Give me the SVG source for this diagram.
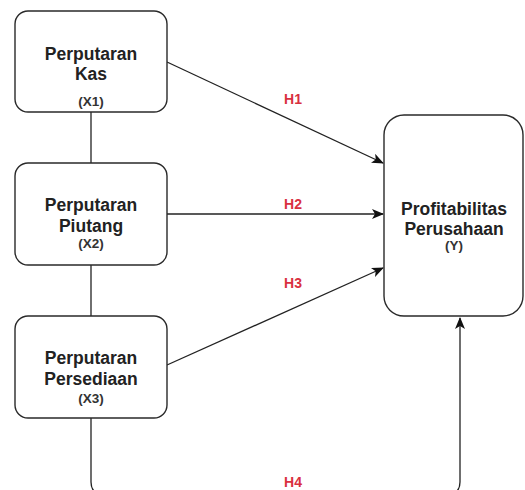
<svg xmlns="http://www.w3.org/2000/svg" width="525" height="490" viewBox="0 0 525 490">
<defs>
<marker id="arr" markerWidth="12" markerHeight="10" refX="11" refY="5" orient="auto" markerUnits="userSpaceOnUse">
<path d="M0,0 L12,5 L0,10 L3,5 Z" fill="#111"/>
</marker>
<style>
.box{fill:#fff;stroke:#2a2a2a;stroke-width:1.4}
.lbl{font-family:"Liberation Sans",Arial,sans-serif;font-weight:bold;font-size:17.5px;fill:#222;text-anchor:middle}
.sub{font-family:"Liberation Sans",Arial,sans-serif;font-weight:bold;font-size:13.5px;fill:#333;text-anchor:middle}
.h{font-family:"Liberation Sans",Arial,sans-serif;font-weight:bold;font-size:14px;fill:#d9303f;text-anchor:middle}
.ln{fill:none;stroke:#222;stroke-width:1.3}
</style>
</defs>
<rect width="525" height="490" fill="#fff"/>
<g id="connectors">
<line class="ln" x1="91" y1="112" x2="91" y2="163"/>
<line class="ln" x1="91" y1="265" x2="91" y2="316"/>
<path class="ln" d="M91,418 L91,482 Q91,494 103,494 L448,494 Q460,494 460,482 L460,318" marker-end="url(#arr)"/>
<line class="ln" x1="167" y1="62" x2="383" y2="163" marker-end="url(#arr)"/>
<line class="ln" x1="167" y1="214" x2="383" y2="214" marker-end="url(#arr)"/>
<line class="ln" x1="167" y1="365" x2="383" y2="268" marker-end="url(#arr)"/>
<text class="h" x="293" y="104">H1</text>
<text class="h" x="293" y="209">H2</text>
<text class="h" x="293" y="288">H3</text>
<text class="h" x="293" y="487">H4</text>
</g>
<g id="x1">
<rect class="box" x="15" y="11" width="152" height="101" rx="13"/>
<text class="lbl" x="91" y="60">Perputaran</text>
<text class="lbl" x="91" y="80">Kas</text>
<text class="sub" x="91" y="106">(X1)</text>
</g>
<g id="x2">
<rect class="box" x="15" y="163" width="152" height="102" rx="13"/>
<text class="lbl" x="91" y="211">Perputaran</text>
<text class="lbl" x="91" y="232">Piutang</text>
<text class="sub" x="91" y="248">(X2)</text>
</g>
<g id="x3">
<rect class="box" x="15" y="316" width="152" height="102" rx="13"/>
<text class="lbl" x="91" y="364">Perputaran</text>
<text class="lbl" x="91" y="385">Persediaan</text>
<text class="sub" x="91" y="403">(X3)</text>
</g>
<g id="y">
<rect class="box" x="384" y="115" width="139" height="201" rx="20"/>
<text class="lbl" x="454" y="215">Profitabilitas</text>
<text class="lbl" x="454" y="235">Perusahaan</text>
<text class="sub" x="454" y="250">(Y)</text>
</g>
</svg>
